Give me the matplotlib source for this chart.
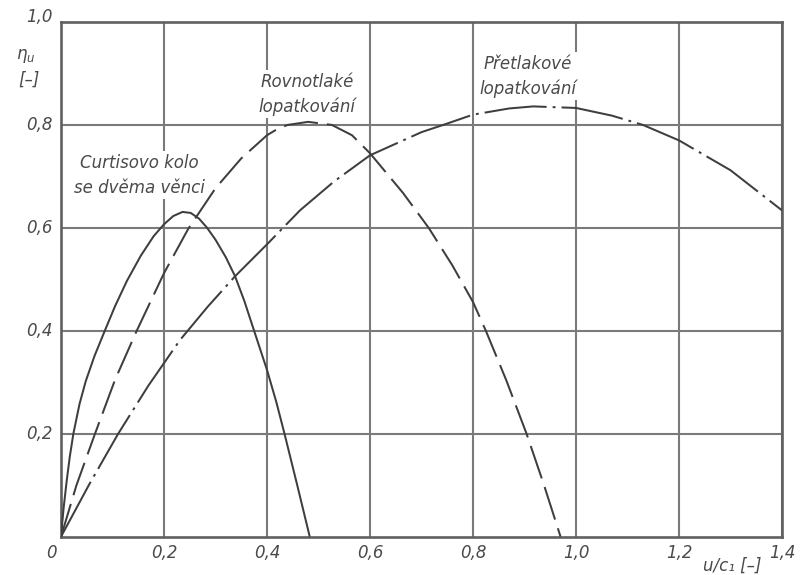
import matplotlib
matplotlib.use("Agg")
import matplotlib.pyplot as plt
from matplotlib.transforms import offset_copy

# ---- data ----
curtis_x = [0, 0.005, 0.011, 0.017, 0.024, 0.036, 0.048, 0.065, 0.085, 0.105, 0.128, 0.155, 0.18, 0.2,
            0.218, 0.236, 0.252, 0.268, 0.283, 0.3, 0.32, 0.338, 0.356, 0.375, 0.4, 0.418, 0.434, 0.458, 0.483]
curtis_y = [0, 0.055, 0.108, 0.155, 0.2, 0.258, 0.302, 0.351, 0.4, 0.448, 0.497, 0.546, 0.584, 0.607,
            0.623, 0.631, 0.629, 0.618, 0.601, 0.577, 0.543, 0.506, 0.458, 0.4, 0.324, 0.262, 0.2, 0.103, 0]

rovno_x = [0, 0.015, 0.03, 0.066, 0.105, 0.147, 0.2, 0.247, 0.3, 0.35, 0.4, 0.42, 0.44, 0.48, 0.526, 0.565,
           0.6, 0.664, 0.714, 0.76, 0.8, 0.825, 0.865, 0.904, 0.937, 0.970]
rovno_y = [0, 0.05, 0.1, 0.2, 0.305, 0.4, 0.512, 0.598, 0.677, 0.735, 0.78, 0.792, 0.8, 0.806, 0.8, 0.78,
           0.745, 0.668, 0.6, 0.527, 0.456, 0.4, 0.303, 0.2, 0.103, 0]

pretl_x = [0, 0.055, 0.111, 0.17, 0.231, 0.285, 0.338, 0.4, 0.464, 0.53, 0.6, 0.7, 0.742, 0.8, 0.87, 0.917,
           1.0, 1.07, 1.13, 1.2, 1.3, 1.4]
pretl_y = [0, 0.102, 0.2, 0.294, 0.382, 0.447, 0.506, 0.568, 0.634, 0.69, 0.741, 0.786, 0.8, 0.82, 0.832, 0.836,
           0.833, 0.818, 0.8, 0.77, 0.712, 0.634]

x_ticks = [0.2, 0.4, 0.6, 0.8, 1.0, 1.2, 1.4]
x_tick_labels = ["0,2", "0,4", "0,6", "0,8", "1,0", "1,2", "1,4"]
y_ticks = [0.2, 0.4, 0.6, 0.8, 1.0]
y_tick_labels = ["0,2", "0,4", "0,6", "0,8", "1,0"]

label_curtis = "Curtisovo kolo\nse dvěma věnci"
label_rovno = "Rovnotlaké\nlopatkování"
label_pretl = "Přetlakové\nlopatkování"

# ---- style ----
plt.rcParams['font.family'] = ['DejaVu Sans']
TXT = "#4a4a4a"
GRID = "#7a7a7a"
LINE = "#3e3e3e"
FS = 12

fig = plt.figure(figsize=(8.03, 5.75), dpi=100)
ax = fig.add_axes([61 / 803, 1 - 536.7 / 575, (782 - 61) / 803, (536.7 - 22) / 575])
ax.set_xlim(0, 1.4)
ax.set_ylim(0, 1.0)

for s in ax.spines.values():
    s.set_color("#606060")
    s.set_linewidth(1.9)

ax.set_xticks(x_ticks)
ax.set_yticks(y_ticks)
ax.tick_params(length=0, labelbottom=False, labelleft=False)
ax.grid(True, color=GRID, linewidth=1.5)
ax.set_axisbelow(True)

lw = 1.45
ax.plot(curtis_x, curtis_y, color=LINE, lw=lw, zorder=4, solid_capstyle='butt', solid_joinstyle='round')
l2, = ax.plot(rovno_x, rovno_y, color=LINE, lw=lw, zorder=4, dash_capstyle='butt')
l2.set_dashes([17, 4.5])
l3, = ax.plot(pretl_x, pretl_y, color=LINE, lw=lw, zorder=4, dash_capstyle='butt')
l3.set_dashes([31, 3, 1.4, 3])

tkw = dict(color=TXT, fontsize=FS, style='italic')

# x tick labels
for xv, lab in zip(x_ticks, x_tick_labels):
    tr = offset_copy(ax.transData, fig=fig, x=0, y=-16.5, units='dots')
    ax.text(xv, 0, lab, transform=tr, ha='center', va='center', clip_on=False, **tkw)
ax.text(0, 0, "0", transform=offset_copy(ax.transData, fig=fig, x=-10, y=-16.5, units='dots'),
        ha='center', va='center', clip_on=False, **tkw)

# y tick labels
for yv, lab in zip(y_ticks, y_tick_labels):
    dy = -5 if yv == 1.0 else 0
    tr = offset_copy(ax.transData, fig=fig, x=-8, y=-dy, units='dots')
    ax.text(0, yv, lab, transform=tr, ha='right', va='center', clip_on=False, **tkw)

# axis labels
fig.text(26 / 803, 1 - 56 / 575, r"$\eta_u$", color=TXT, fontsize=FS, ha='center', va='center',
         math_fontfamily='dejavusans')
fig.text(29 / 803, 1 - 80 / 575, "[–]", ha='center', va='center', **tkw)
fig.text(732 / 803, 1 - 566 / 575, "u/c₁ [–]", ha='center', va='center', **tkw)

# curve labels with white background (breaking the grid)
bb = dict(facecolor='white', edgecolor='none', pad=2)
ax.text(0.152, 0.702, label_curtis, ha='center', va='center', linespacing=1.45,
        bbox=bb, zorder=3, **tkw)
ax.text(0.478, 0.86, label_rovno, ha='center', va='center', linespacing=1.45,
        bbox=bb, zorder=3, **tkw)
ax.text(0.907, 0.895, label_pretl, ha='center', va='center', linespacing=1.45,
        bbox=bb, zorder=3, **tkw)

fig.savefig("out.png", dpi=100, facecolor='white')
